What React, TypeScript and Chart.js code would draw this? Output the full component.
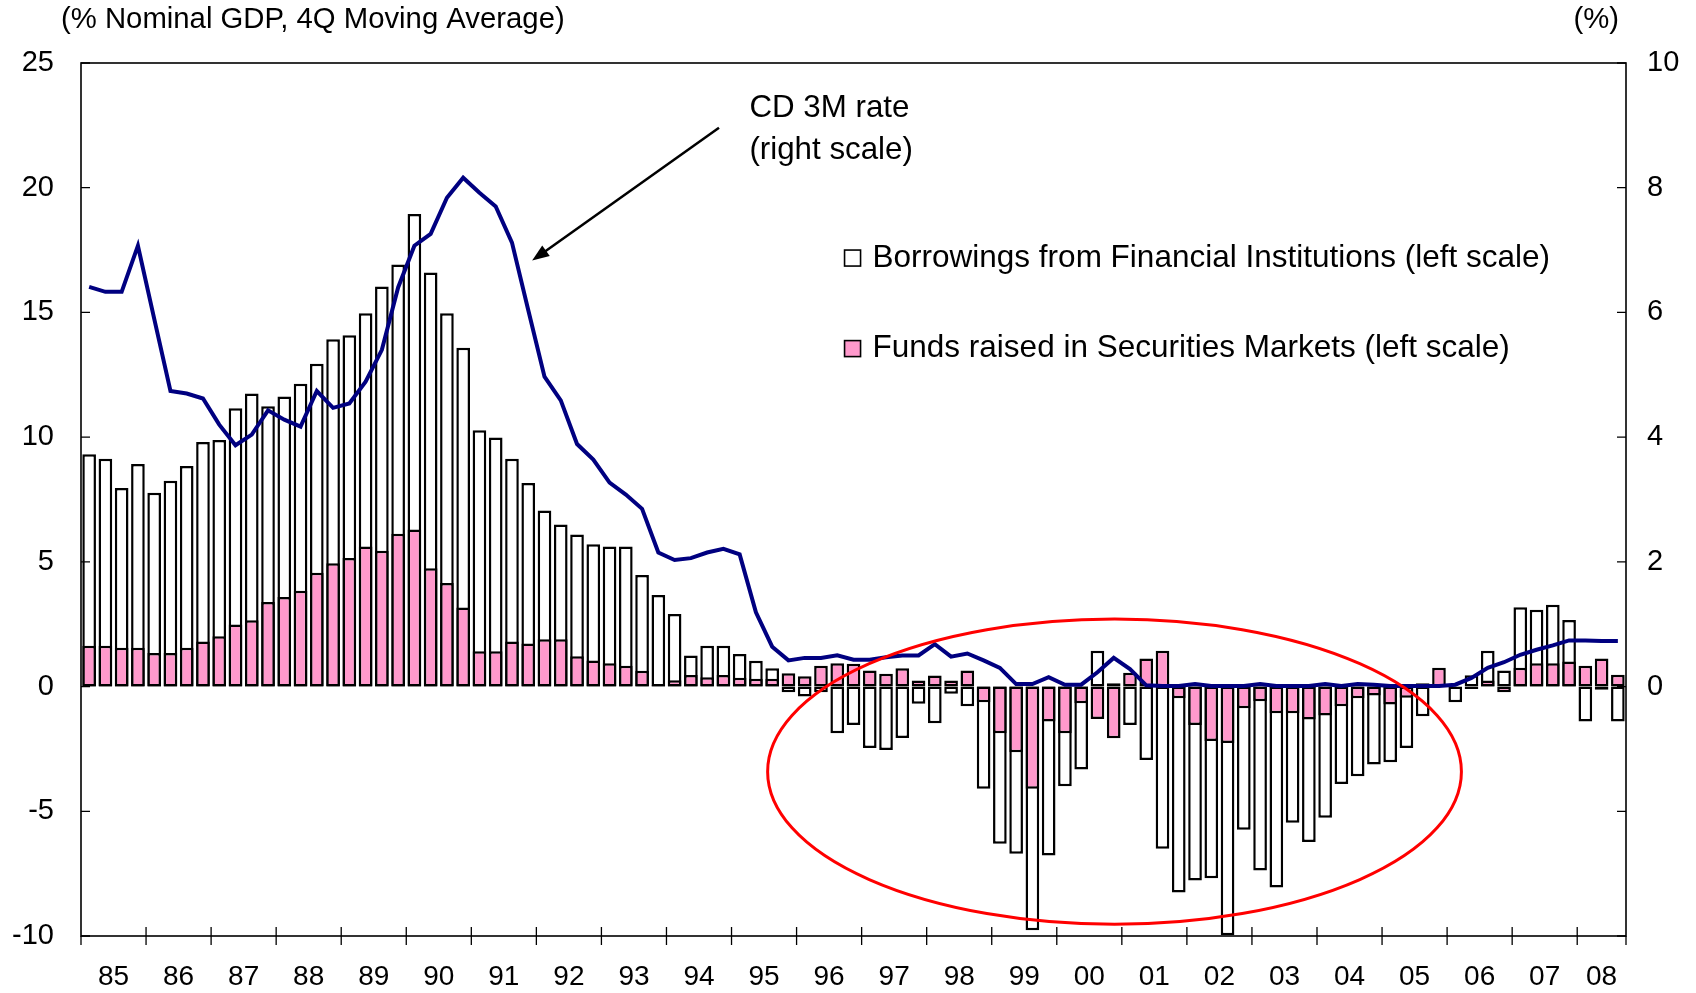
import React, { useEffect, useRef } from 'react';
import { Chart, registerables } from 'chart.js';

Chart.register(...registerables);

// ---------------- Data (quarterly, 1985Q1 .. 2008Q3) ----------------
const yearLabels = [
  '85', '86', '87', '88', '89', '90', '91', '92', '93', '94', '95', '96',
  '97', '98', '99', '00', '01', '02', '03', '04', '05', '06', '07', '08',
];

// Borrowings from Financial Institutions (% of nominal GDP, left scale)
const borrowings = [
  9.31, 9.13, 7.96, 8.92, 7.77, 8.25, 8.84, 9.81, 9.89, 11.16,
  11.75, 11.24, 11.63, 12.14, 12.94, 13.92, 14.09, 14.97, 16.04, 16.92,
  18.95, 16.6, 14.97, 13.58, 10.28, 9.99, 9.13, 8.16, 7.06, 6.5,
  6.1, 5.71, 5.62, 5.62, 4.47, 3.67, 2.91, 1.25, 1.64, 1.64,
  1.31, 1.04, 0.73, -0.23, -0.4, -0.23, -1.87, -1.54, -2.46, -2.54,
  -2.06, -0.69, -1.47, -0.29, -0.79, -4.1, -6.3, -6.7, -9.77, -6.77,
  -4.0, -3.32, 1.44, 0.13, -1.54, -2.94, -6.5, -8.26, -7.77, -7.68,
  -9.97, -5.74, -7.37, -8.06, -5.46, -6.23, -5.26, -3.91, -3.6, -3.12,
  -3.03, -2.46, -1.19, 0.0, -0.63, 0.45, 1.44, 0.64, 3.18, 3.08,
  3.28, 2.67, -1.4, -0.13, -1.4,
];

// Funds raised in Securities Markets (% of nominal GDP, left scale)
const securities = [
  1.64, 1.64, 1.56, 1.56, 1.35, 1.35, 1.56, 1.81, 2.02, 2.49,
  2.66, 3.39, 3.59, 3.84, 4.56, 4.94, 5.15, 5.62, 5.45, 6.13,
  6.3, 4.74, 4.15, 3.17, 1.42, 1.42, 1.81, 1.73, 1.9, 1.9,
  1.22, 1.05, 0.93, 0.83, 0.63, 0.05, 0.25, 0.46, 0.37, 0.46,
  0.35, 0.31, 0.31, 0.53, 0.41, 0.83, 0.93, 0.91, 0.64, 0.51,
  0.73, 0.24, 0.44, 0.24, 0.64, -0.63, -1.87, -2.63, -4.1, -1.4,
  -1.87, -0.67, -1.3, -2.07, 0.55, 1.13, 1.44, -0.47, -1.54, -2.18,
  -2.26, -0.87, -0.59, -1.07, -1.07, -1.32, -1.16, -0.79, -0.47, -0.36,
  -0.72, -0.45, 0.13, 0.75, 0.0, -0.1, 0.24, -0.23, 0.75, 0.93,
  0.93, 1.01, 0.83, 1.13, 0.47,
];

// CD 3M rate (%, right scale)
const cdRate = [
  6.41, 6.33, 6.33, 7.07, 5.9, 4.74, 4.7, 4.62, 4.2, 3.87,
  4.04, 4.43, 4.28, 4.17, 4.74, 4.47, 4.54, 4.89, 5.4, 6.4,
  7.07, 7.26, 7.84, 8.16, 7.92, 7.7, 7.12, 6.04, 4.97, 4.59,
  3.89, 3.64, 3.27, 3.08, 2.85, 2.15, 2.03, 2.06, 2.15, 2.21,
  2.12, 1.19, 0.64, 0.42, 0.46, 0.46, 0.5, 0.43, 0.43, 0.47,
  0.5, 0.5, 0.68, 0.48, 0.53, 0.42, 0.3, 0.04, 0.04, 0.15,
  0.03, 0.03, 0.23, 0.46, 0.28, 0.02, 0.01, 0.01, 0.04, 0.01,
  0.01, 0.01, 0.04, 0.01, 0.01, 0.01, 0.04, 0.01, 0.04, 0.03,
  0.01, 0.01, 0.01, 0.01, 0.03, 0.14, 0.3, 0.39, 0.51, 0.59,
  0.66, 0.74, 0.74, 0.73, 0.73,
];

const leftMin = -10;
const leftMax = 25;
const leftStep = 5;
const rightMin = -4;
const rightMax = 10;
const rightStep = 2;

const FONT = '"Liberation Sans", Arial, Helvetica, sans-serif';
const PINK = '#FF99CC';
const NAVY = '#000080';

// annotation geometry in data coordinates (x: quarter index, y: left scale)
const ellipseSpec = { cx: 63.05, cy: -3.41, rx: 21.33, ry: 6.12 };
const arrowSpec = { fromX: 38.73, fromY: 22.4, toX: 27.24, toY: 17.08 };
const annotationSpec = { x: 40.6, y1: 23.2, y2: 21.5 };
const legendSpec = { x: 46.45, y1: 17.18, y2: 13.55 };

const nQ = borrowings.length;
const yearCenters = yearLabels.map((_, k) => (4 * k + Math.min(4 * k + 3, nQ - 1)) / 2);
const yearBounds = yearLabels.slice(1).map((_, k) => 4 * (k + 1) - 0.5);

const overlayPlugin = {
  id: 'overlay',
  afterDraw(chart: any) {
    const { ctx, chartArea: a, scales } = chart;
    const xs = scales.x;
    const yl = scales.yL;
    const yr = scales.yR;
    ctx.save();

    // frame
    ctx.strokeStyle = '#000';
    ctx.lineWidth = 1.6;
    ctx.strokeRect(a.left, a.top, a.right - a.left, a.bottom - a.top);

    // ticks (inward on y axes, crossing on x axis)
    ctx.lineWidth = 1.3;
    ctx.beginPath();
    for (let v = leftMin; v <= leftMax; v += leftStep) {
      const y = yl.getPixelForValue(v);
      ctx.moveTo(a.left, y);
      ctx.lineTo(a.left + 9, y);
    }
    for (let v = rightMin; v <= rightMax; v += rightStep) {
      const y = yr.getPixelForValue(v);
      ctx.moveTo(a.right - 9, y);
      ctx.lineTo(a.right, y);
    }
    for (const b of yearBounds) {
      const x = xs.getPixelForValue(b);
      ctx.moveTo(x, a.bottom - 9);
      ctx.lineTo(x, a.bottom + 9);
    }
    ctx.moveTo(a.left, a.bottom);
    ctx.lineTo(a.left, a.bottom + 9);
    ctx.moveTo(a.right, a.bottom);
    ctx.lineTo(a.right, a.bottom + 9);
    ctx.stroke();

    // red ellipse
    const ecx = xs.getPixelForValue(ellipseSpec.cx);
    const ecy = yl.getPixelForValue(ellipseSpec.cy);
    const erx = Math.abs(xs.getPixelForValue(ellipseSpec.cx + ellipseSpec.rx) - ecx);
    const ery = Math.abs(yl.getPixelForValue(ellipseSpec.cy + ellipseSpec.ry) - ecy);
    ctx.beginPath();
    ctx.ellipse(ecx, ecy, erx, ery, 0, 0, Math.PI * 2);
    ctx.strokeStyle = '#FF0000';
    ctx.lineWidth = 3;
    ctx.stroke();

    // arrow
    const ax1 = xs.getPixelForValue(arrowSpec.fromX);
    const ay1 = yl.getPixelForValue(arrowSpec.fromY);
    const ax2 = xs.getPixelForValue(arrowSpec.toX);
    const ay2 = yl.getPixelForValue(arrowSpec.toY);
    const ang = Math.atan2(ay2 - ay1, ax2 - ax1);
    const headLen = 17;
    const headW = 6.5;
    ctx.strokeStyle = '#000';
    ctx.lineWidth = 2.5;
    ctx.beginPath();
    ctx.moveTo(ax1, ay1);
    ctx.lineTo(ax2 - Math.cos(ang) * headLen * 0.8, ay2 - Math.sin(ang) * headLen * 0.8);
    ctx.stroke();
    ctx.beginPath();
    ctx.moveTo(ax2, ay2);
    ctx.lineTo(
      ax2 - Math.cos(ang) * headLen + Math.sin(ang) * headW,
      ay2 - Math.sin(ang) * headLen - Math.cos(ang) * headW
    );
    ctx.lineTo(
      ax2 - Math.cos(ang) * headLen - Math.sin(ang) * headW,
      ay2 - Math.sin(ang) * headLen + Math.cos(ang) * headW
    );
    ctx.closePath();
    ctx.fillStyle = '#000';
    ctx.fill();

    // texts
    ctx.fillStyle = '#000';
    ctx.textBaseline = 'middle';
    ctx.font = `29.3px ${FONT}`;
    ctx.textAlign = 'left';
    ctx.fillText('(% Nominal GDP, 4Q Moving Average)', 61, 20);
    ctx.textAlign = 'right';
    ctx.fillText('(%)', 1619, 20);

    ctx.font = `31.3px ${FONT}`;
    ctx.textAlign = 'left';
    const tx = xs.getPixelForValue(annotationSpec.x);
    ctx.fillText('CD 3M rate', tx, yl.getPixelForValue(annotationSpec.y1));
    ctx.fillText('(right scale)', tx, yl.getPixelForValue(annotationSpec.y2));

    // legend
    ctx.font = `31.5px ${FONT}`;
    const lx = xs.getPixelForValue(legendSpec.x);
    const items = [
      { label: 'Borrowings from Financial Institutions (left scale)', fill: '#FFFFFF', y: legendSpec.y1 },
      { label: 'Funds raised in Securities Markets (left scale)', fill: PINK, y: legendSpec.y2 },
    ];
    for (const it of items) {
      const ly = yl.getPixelForValue(it.y);
      ctx.fillStyle = it.fill;
      ctx.fillRect(lx, ly - 8, 16, 16);
      ctx.strokeStyle = '#000';
      ctx.lineWidth = 1.6;
      ctx.strokeRect(lx, ly - 8, 16, 16);
      ctx.fillStyle = '#000';
      ctx.fillText(it.label, lx + 28, ly);
    }
    ctx.restore();
  },
};

export default function App() {
  const canvasRef = useRef<HTMLCanvasElement | null>(null);

  useEffect(() => {
    document.body.style.margin = '0';
    const canvas = canvasRef.current;
    if (!canvas) return;
    const toXY = (arr: number[]) => arr.map((v, i) => ({ x: i, y: v }));

    const chart = new Chart(canvas, {
      type: 'bar',
      data: {
        datasets: [
          {
            type: 'line',
            label: 'CD 3M rate (right scale)',
            data: toXY(cdRate),
            yAxisID: 'yR',
            borderColor: NAVY,
            borderWidth: 4,
            pointRadius: 0,
            tension: 0,
            fill: false,
            order: 0,
          } as any,
          {
            type: 'bar',
            label: 'Funds raised in Securities Markets (left scale)',
            data: toXY(securities),
            yAxisID: 'yL',
            backgroundColor: PINK,
            borderColor: '#000',
            borderWidth: 2.5,
            borderSkipped: false,
            grouped: false,
            barPercentage: 0.84,
            categoryPercentage: 1,
            order: 1,
          } as any,
          {
            type: 'bar',
            label: 'Borrowings from Financial Institutions (left scale)',
            data: toXY(borrowings),
            yAxisID: 'yL',
            backgroundColor: '#FFFFFF',
            borderColor: '#000',
            borderWidth: 2.5,
            borderSkipped: false,
            grouped: false,
            barPercentage: 0.84,
            categoryPercentage: 1,
            order: 2,
          } as any,
        ],
      },
      options: {
        responsive: false,
        animation: false,
        devicePixelRatio: 1,
        layout: { padding: { top: 63, left: 0, right: 0, bottom: 0 } },
        plugins: {
          legend: { display: false },
          tooltip: { enabled: false },
          title: { display: false },
        },
        scales: {
          x: {
            type: 'linear',
            min: -0.5,
            max: nQ - 0.5,
            offset: false,
            grid: { display: false, drawTicks: false },
            border: { display: false },
            afterBuildTicks: (scale: any) => {
              scale.ticks = yearCenters.map((v) => ({ value: v }));
            },
            afterFit: (scale: any) => {
              scale.height = 57;
            },
            ticks: {
              autoSkip: false,
              maxRotation: 0,
              minRotation: 0,
              padding: 24,
              color: '#000',
              font: { family: FONT, size: 28 },
              callback: (_v: any, i: number) => yearLabels[i],
            },
          },
          yL: {
            type: 'linear',
            position: 'left',
            min: leftMin,
            max: leftMax,
            grid: { display: false, drawTicks: false },
            border: { display: false },
            afterFit: (scale: any) => {
              scale.width = 81;
            },
            ticks: {
              stepSize: leftStep,
              padding: 27,
              color: '#000',
              font: { family: FONT, size: 29 },
            },
          },
          yR: {
            type: 'linear',
            position: 'right',
            min: rightMin,
            max: rightMax,
            grid: { display: false, drawTicks: false },
            border: { display: false },
            afterFit: (scale: any) => {
              scale.width = 70;
            },
            ticks: {
              stepSize: rightStep,
              padding: 21,
              color: '#000',
              font: { family: FONT, size: 29 },
              callback: (v: any) => (Number(v) >= 0 ? String(v) : ''),
            },
          },
        },
      } as any,
      plugins: [overlayPlugin],
    });

    return () => {
      chart.destroy();
    };
  }, []);

  return (
    <div style={{ width: 1696, height: 993, position: 'relative', background: '#fff' }}>
      <canvas ref={canvasRef} width={1696} height={993} style={{ display: 'block' }} />
    </div>
  );
}
